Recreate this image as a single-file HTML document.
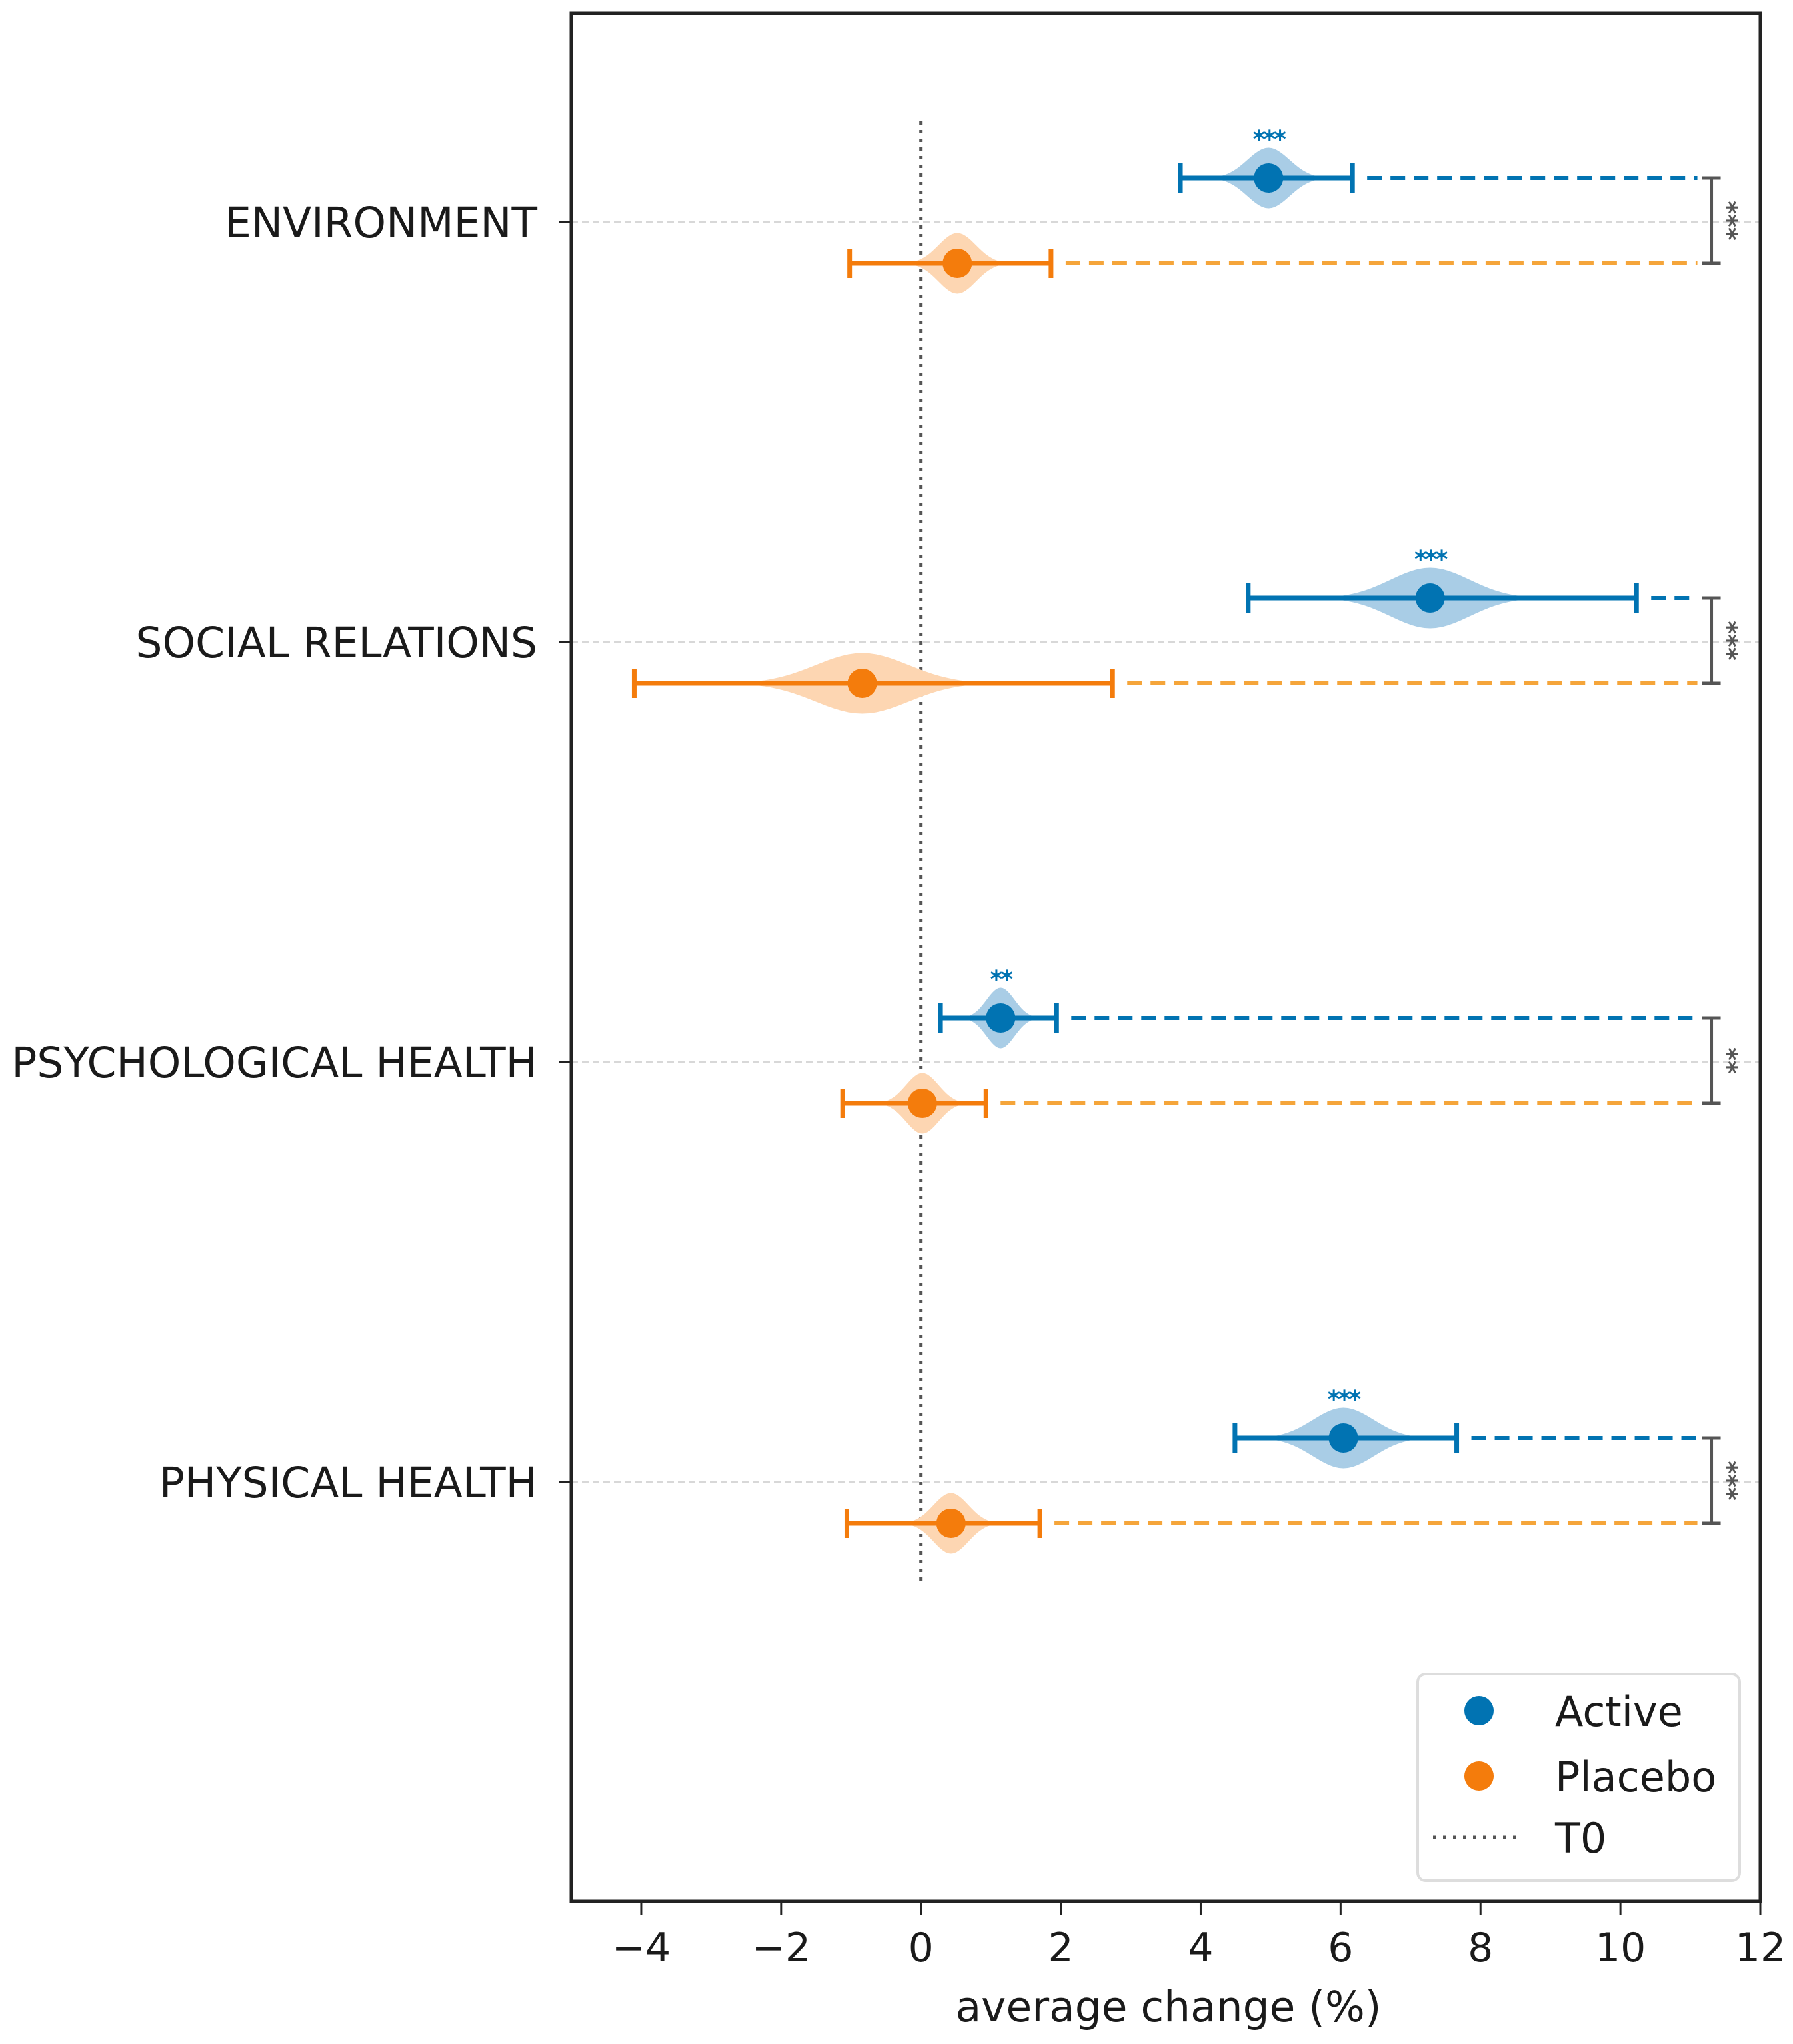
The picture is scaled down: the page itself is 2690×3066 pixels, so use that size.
<!DOCTYPE html>
<html><head><meta charset="utf-8"><style>
html,body{margin:0;padding:0;background:#fff;}
svg{display:block;font-family:"DejaVu Sans","Liberation Sans",sans-serif;}
</style></head><body>
<svg id="chart" width="2690" height="3066" viewBox="0 0 2690 3066" xmlns="http://www.w3.org/2000/svg">
<rect x="0" y="0" width="2690" height="3066" fill="#fff"/>
<g id="grid"></g>
<g id="marks"></g>
<g id="axes"></g>
</svg>
<script>
const categories = ["ENVIRONMENT","SOCIAL RELATIONS","PSYCHOLOGICAL HEALTH","PHYSICAL HEALTH"];
const activeMean = [4.97, 7.28, 1.14, 6.04];
const activeLow = [3.71, 4.68, 0.28, 4.49];
const activeHigh = [6.17, 10.23, 1.94, 7.66];
const activeSpread = [0.9, 1.7, 0.6, 1.3];
const placeboMean = [0.52, -0.84, 0.02, 0.43];
const placeboLow = [-1.02, -4.1, -1.12, -1.06];
const placeboHigh = [1.86, 2.74, 0.93, 1.70];
const placeboSpread = [0.8, 2.0, 0.7, 0.75];
const activeStars = ["***","***","**","***"];
const pairStars = ["***","***","**","***"];
const xTicks = [-4,-2,0,2,4,6,8,10,12];
const xTickLabels = ["\u22124","\u22122","0","2","4","6","8","10","12"];
const xMin = -5, xMax = 12;
const dashEnd = 11.1, bracketX = 11.3;

const NS = "http://www.w3.org/2000/svg";
const L = 857, R = 2641, T = 20, B = 2852;
const X = v => L + (v - xMin) / (xMax - xMin) * (R - L);
const catY = i => 333 + i * 630;
const aOff = -66, pOff = 62;
const BLUE = "#0173b2", ORANGE = "#f47c0c", ORANGE_D = "#f5a53a";
function mk(tag, attrs, parent) {
  const e = document.createElementNS(NS, tag);
  for (const k in attrs) e.setAttribute(k, attrs[k]);
  parent.appendChild(e);
  return e;
}
const grid = document.getElementById("grid");
const marks = document.getElementById("marks");
const axes = document.getElementById("axes");

categories.forEach((c, i) => {
  const g = mk("line", {x1: L, x2: R, y1: catY(i), y2: catY(i), stroke: "#d8d8d8", "stroke-width": 4, "stroke-dasharray": "10 6"}, grid);
  
  
});

const t0 = mk("line", {x1: X(0), x2: X(0), y1: 182, y2: 2378, stroke: "#555", "stroke-width": 5, "stroke-dasharray": "5 8"}, grid);



function violin(cx, cy, spread, fill) {
  const h = 46, n = 40;
  let d = "";
  const pts = [];
  for (let k = 0; k <= n; k++) {
    const t = -1 + 2 * k / n;
    const w = Math.exp(-4.5 * t * t) - Math.exp(-4.5);
    pts.push([cx + t * spread * (R - L) / (xMax - xMin), w]);
  }
  pts.forEach((p, k) => { d += (k ? "L" : "M") + p[0] + " " + (cy - p[1] * h); });
  for (let k = pts.length - 1; k >= 0; k--) d += "L" + pts[k][0] + " " + (cy + pts[k][1] * h);
  return mk("path", {d: d + "Z", fill: fill}, marks);
}

function series(i, mean, lo, hi, spread, y, col, dcol, fill, name) {
  const v = violin(X(mean), y, spread, fill);
  
  
  const dl = mk("line", {x1: X(hi) + 22, x2: X(dashEnd), y1: y, y2: y, stroke: dcol, "stroke-width": 6, "stroke-dasharray": "22 13"}, marks);
  
  
  const e = mk("line", {x1: X(lo), x2: X(hi), y1: y, y2: y, stroke: col, "stroke-width": 7}, marks);
  
  
  [lo, hi].forEach(v2 => {
    const cap = mk("line", {x1: X(v2), x2: X(v2), y1: y - 22, y2: y + 22, stroke: col, "stroke-width": 7}, marks);
    
    
  });
  const dot = mk("circle", {cx: X(mean), cy: y, r: 22, fill: col}, marks);
  
  
}

categories.forEach((c, i) => {
  const ya = catY(i) + aOff, yp = catY(i) + pOff;
  series(i, activeMean[i], activeLow[i], activeHigh[i], activeSpread[i], ya, BLUE, BLUE, "#a9cde6", "active");
  series(i, placeboMean[i], placeboLow[i], placeboHigh[i], placeboSpread[i], yp, ORANGE, ORANGE_D, "#fdd6b2", "placebo");
  const st = mk("text", {x: X(activeMean[i]), y: ya - 46, "text-anchor": "middle", "font-size": 36, "font-weight": "bold", "letter-spacing": -3, fill: BLUE}, marks);
  st.textContent = activeStars[i];
  
  
  const bx = X(bracketX);
  const br = mk("path", {d: `M${bx - 14} ${ya} H${bx + 14} M${bx} ${ya} V${yp} M${bx - 14} ${yp} H${bx + 14}`, stroke: "#555", "stroke-width": 5, fill: "none"}, marks);
  
  
  const ps = mk("text", {x: 0, y: 0, "text-anchor": "middle", "font-size": 38, "font-weight": "bold", fill: "#555", transform: `translate(${bx + 12},${(ya + yp) / 2}) rotate(90)`}, marks);
  ps.textContent = pairStars[i];
  
  
  const yl = mk("text", {x: 806, y: catY(i) + 23, "text-anchor": "end", "font-size": 63, fill: "#1a1a1a"}, axes);
  yl.textContent = c;
  
  
  const yt = mk("line", {x1: L - 18, x2: L, y1: catY(i), y2: catY(i), stroke: "#222", "stroke-width": 3}, axes);
  
  
});

const frame = mk("rect", {x: L, y: T, width: R - L, height: B - T, fill: "none", stroke: "#222", "stroke-width": 5}, axes);



xTicks.forEach((t, k) => {
  const tk = mk("line", {x1: X(t), x2: X(t), y1: B, y2: B + 20, stroke: "#222", "stroke-width": 3}, axes);
  
  
  const tl = mk("text", {x: X(t), y: B + 90, "text-anchor": "middle", "font-size": 60, fill: "#1a1a1a"}, axes);
  tl.textContent = xTickLabels[k];
  
  
});
const xl = mk("text", {x: 1753, y: 3032, "text-anchor": "middle", "font-size": 63, fill: "#1a1a1a"}, axes);
xl.textContent = "average change (%)";



const lg = mk("g", {}, axes);


mk("rect", {x: 2127, y: 2511, width: 483, height: 310, rx: 12, fill: "#fff", stroke: "#ddd", "stroke-width": 4}, lg);
const entries = [["Active", BLUE, 2566], ["Placebo", ORANGE, 2664], ["T0", null, 2756]];
entries.forEach(([lab, col, y]) => {
  let m;
  if (col) m = mk("circle", {cx: 2219, cy: y, r: 22, fill: col}, lg);
  else m = mk("line", {x1: 2150, x2: 2282, y1: y, y2: y, stroke: "#555", "stroke-width": 5, "stroke-dasharray": "5 10"}, lg);
  
  
  const t = mk("text", {x: 2333, y: y + 23, "font-size": 62, fill: "#1a1a1a"}, lg);
  t.textContent = lab;
  
  
});
</script>
</body></html>
